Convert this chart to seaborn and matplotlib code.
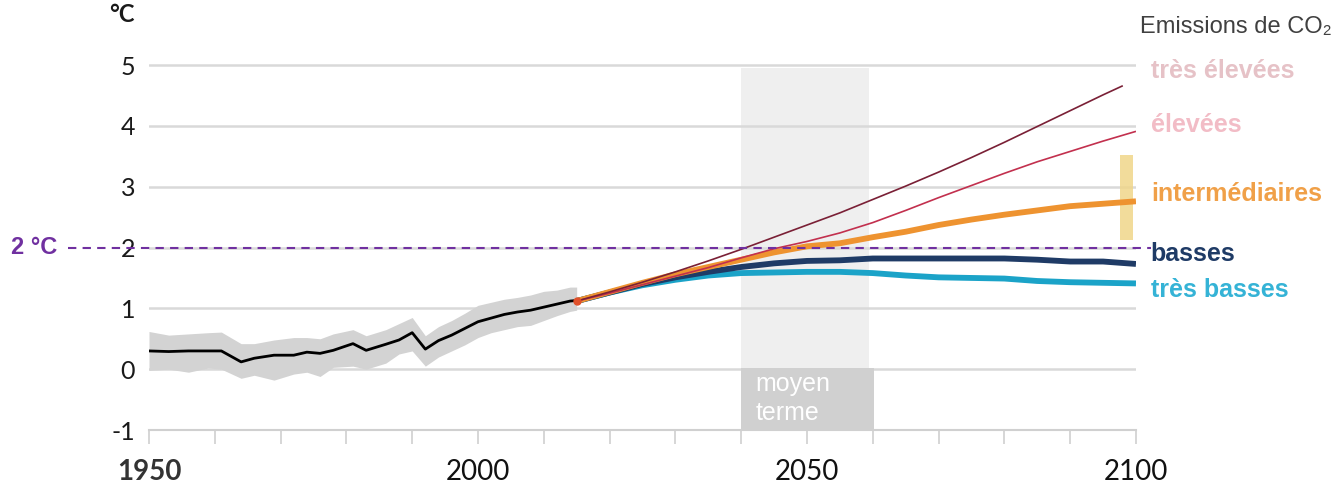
import numpy as np
import pandas as pd
import matplotlib
matplotlib.use("Agg")
import matplotlib.pyplot as plt
from matplotlib.patches import Rectangle
import seaborn as sns

# Observed warming 1950-2015 (°C) with uncertainty envelope
hist_years = [1950, 1953, 1956, 1959, 1961, 1964, 1966, 1969, 1972, 1974, 1976, 1978,
              1981, 1983, 1986, 1988, 1990, 1992, 1994, 1996, 1998, 2000, 2002, 2004,
              2006, 2008, 2010, 2012, 2014, 2015]
hist_mean = [0.30, 0.29, 0.30, 0.30, 0.30, 0.12, 0.18, 0.23, 0.23, 0.28, 0.26, 0.31,
             0.42, 0.31, 0.41, 0.48, 0.60, 0.33, 0.47, 0.56, 0.67, 0.78, 0.84, 0.90,
             0.94, 0.97, 1.02, 1.07, 1.12, 1.13]
hist_high = [0.62, 0.56, 0.58, 0.60, 0.61, 0.42, 0.42, 0.48, 0.52, 0.52, 0.50, 0.58,
             0.65, 0.55, 0.65, 0.75, 0.85, 0.55, 0.70, 0.80, 0.92, 1.05, 1.10, 1.15,
             1.18, 1.22, 1.28, 1.30, 1.35, 1.35]
hist_low = [-0.02, 0.00, -0.05, 0.02, 0.00, -0.15, -0.10, -0.18, -0.08, -0.05, -0.12, 0.03,
            0.05, 0.00, 0.10, 0.25, 0.30, 0.05, 0.20, 0.30, 0.40, 0.52, 0.60, 0.65,
            0.70, 0.72, 0.80, 0.88, 0.95, 0.97]

# Scenario projections (°C)
proj_years = [2015, 2020, 2025, 2030, 2035, 2040, 2045, 2050, 2055, 2060, 2065, 2070,
              2075, 2080, 2085, 2090, 2095, 2100]
tres_elevees = [1.12, 1.27, 1.43, 1.60, 1.78, 1.97, 2.17, 2.37, 2.57, 2.79, 3.01, 3.24,
                3.48, 3.73, 3.99, 4.25, 4.51, 4.66]
elevees = [1.12, 1.25, 1.39, 1.53, 1.67, 1.83, 1.98, 2.10, 2.24, 2.41, 2.61, 2.82,
           3.02, 3.22, 3.41, 3.58, 3.75, 3.91]
intermediaires = [1.12, 1.27, 1.42, 1.56, 1.68, 1.80, 1.92, 2.02, 2.07, 2.17, 2.26, 2.37,
                  2.46, 2.54, 2.61, 2.68, 2.72, 2.76]
basses = [1.12, 1.26, 1.40, 1.51, 1.60, 1.68, 1.74, 1.78, 1.79, 1.82, 1.82, 1.82,
          1.82, 1.82, 1.80, 1.77, 1.77, 1.73]
tres_basses = [1.12, 1.26, 1.38, 1.47, 1.54, 1.58, 1.59, 1.60, 1.60, 1.58, 1.54, 1.51,
               1.50, 1.49, 1.45, 1.43, 1.42, 1.41]
# the highest scenario stops just short of 2100
tres_elevees_years = proj_years[:-1] + [2098]

scenario_names = ["très basses", "basses", "intermédiaires", "élevées", "très élevées"]
line_colors = ["#1ba3c8", "#1f3b66", "#ee9330", "#c2304e", "#7a2036"]
label_colors = ["#35b3d6", "#1f3b66", "#f0a048", "#f2bcc6", "#e6c2c7"]
line_widths = [4.2, 4.2, 4.2, 1.2, 1.2]
label_y = [1.30, 1.90, 2.88, 4.02, 4.90]

# Range for the intermediate scenario at end of century
inter_range = (2.12, 3.52)
mid_term = (2040, 2060)
threshold = 2.0

x_ticks = [1950, 2000, 2050, 2100]
x_ticklabels = ["1950", "2000", "2050", "2100"]

sns.set_theme(style="white")
plt.rcParams["font.family"] = ["Lato", "DejaVu Sans"]

fig = plt.figure(figsize=(13.41, 4.83), dpi=100)
ax = fig.add_axes([0.1111, 0.1097, 0.7360, 0.7619])
ax.set_xlim(1950, 2100)
ax.set_ylim(-1, 5.05)

# Mid-term window
ax.axvspan(mid_term[0], mid_term[1] - 0.5, ymin=0, ymax=(4.95 + 1) / 6.05,
           color="#efefef", zorder=0, lw=0)
ax.add_patch(Rectangle((mid_term[0], -1), mid_term[1] - mid_term[0] + 0.2, 1.02,
                       color="#d0d0d0", zorder=1, lw=0))
ax.text(mid_term[0] + 2.2, -0.25, "moyen", color="white", fontsize=18,
        family=["Liberation Sans"], va="center", ha="left", zorder=2)
ax.text(mid_term[0] + 2.2, -0.72, "terme", color="white", fontsize=18,
        family=["Liberation Sans"], va="center", ha="left", zorder=2)

# Horizontal gridlines
for yv in range(0, 6):
    ax.axhline(yv, color="#d9d9d9", lw=1.8, zorder=0.5)

# Observations
ax.fill_between(hist_years, hist_low, hist_high, color="#d3d3d3", lw=0, zorder=2)
hist_df = pd.DataFrame({"year": hist_years, "temp": hist_mean})
sns.lineplot(data=hist_df, x="year", y="temp", color="black", lw=2, ax=ax, zorder=3)

# Intermediate-scenario range bar
ax.add_patch(Rectangle((2097.6, inter_range[0]), 2.0, inter_range[1] - inter_range[0],
                       color="#f0d68a", alpha=0.85, lw=0, zorder=3))

# Scenario curves
series = [tres_basses, basses, intermediaires, elevees, tres_elevees]
for i, (name, vals) in enumerate(zip(scenario_names, series)):
    yrs = tres_elevees_years if name == "très élevées" else proj_years
    df = pd.DataFrame({"year": yrs, "temp": vals})
    sns.lineplot(data=df, x="year", y="temp", color=line_colors[i], lw=line_widths[i],
                 ax=ax, zorder=4 + i, solid_capstyle="butt")
    ax.text(1.015, label_y[i], name, transform=ax.get_yaxis_transform(),
            color=label_colors[i], fontsize=18, fontweight="bold",
            family=["Liberation Sans"], va="center", ha="left")
ax.plot([2015], [1.12], marker="o", ms=5, color="#e0502a", zorder=10)

# 2 °C threshold
ax.axhline(threshold, xmin=-0.082, xmax=1.015, color="#7030a0", lw=1.5,
           ls=(0, (4, 3)), clip_on=False, zorder=9)
ax.text(-0.140, threshold, "2 °C", transform=ax.get_yaxis_transform(),
        color="#7030a0", fontsize=17, fontweight="bold", family=["Liberation Sans"],
        va="center", ha="left")

# Axes styling
for s in ["top", "right", "left"]:
    ax.spines[s].set_visible(False)
ax.spines["bottom"].set_color("#d0d0d0")
ax.spines["bottom"].set_linewidth(1.5)
ax.set_yticks(range(-1, 6))
ax.set_yticklabels([str(v) for v in range(-1, 6)], fontsize=18, color="#1a1a1a")
ax.set_xticks(x_ticks)
ax.set_xticklabels(x_ticklabels, fontsize=20, color="#111111")
ax.get_xticklabels()[0].set_fontweight("bold")
ax.get_xticklabels()[0].set_color("#333333")
ax.set_xticks(np.arange(1950, 2101, 10), minor=True)
ax.tick_params(axis="x", which="both", direction="out", length=10, width=1.2,
               color="#d0d0d0", pad=11, bottom=True)
ax.tick_params(axis="y", length=0, pad=10)
ax.set_xlabel("")
ax.set_ylabel("")

ax.text(-0.04, 1.13, "°C", transform=ax.transAxes, fontsize=17, fontweight="bold",
        color="#1a1a1a", ha="left", va="center")
fig.text(0.850, 0.945, "Emissions de CO₂", fontsize=17, color="#404040",
         family=["Liberation Sans", "DejaVu Sans"], ha="left", va="center")

fig.savefig("out.png", dpi=100)
